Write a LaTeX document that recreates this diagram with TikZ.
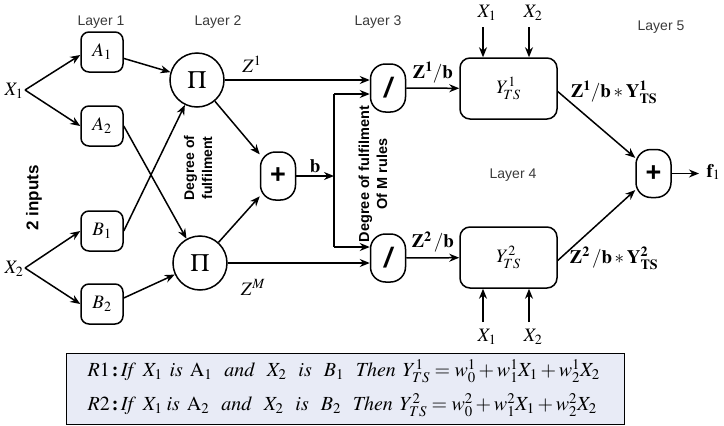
\documentclass[tikz,border=0pt]{standalone}
\usepackage{mathptmx}
\usepackage{fontspec}
\setmainfont{Liberation Serif}
\setsansfont{Liberation Sans}
\usetikzlibrary{arrows.meta}
\definecolor{boxfill}{HTML}{E8EBF6}
\definecolor{lblgray}{HTML}{3A3A3A}
\newcommand{\ga}{\hspace{7pt}}
\newcommand{\gb}{\hspace{12pt}}
\begin{document}
\begin{tikzpicture}[x=1pt,y=-1pt,
  lw/.style={line width=1.5pt},
  arr/.style={lw,-{Stealth[length=10pt,width=8pt]}},
  mathf/.style={font=\fontsize{19}{22}\selectfont},
  mf/.style={draw,lw,rounded corners=8pt,minimum width=42pt,minimum height=40pt,inner sep=0pt,mathf},
  pinode/.style={draw,lw,circle,minimum size=54pt,inner sep=0pt,font=\fontsize{25}{27}\selectfont},
  opnode/.style={draw,lw,rounded corners=15pt,minimum width=35pt,minimum height=48pt,inner sep=0pt,font=\sffamily\bfseries\fontsize{27}{29}\selectfont},
  ybox/.style={draw,lw,rounded corners=10pt,minimum width=97pt,minimum height=61pt,inner sep=0pt,mathf},
  layer/.style={font=\sffamily\fontsize{14}{16}\selectfont,text=lblgray},
  blbl/.style={font=\fontsize{19}{21}\selectfont},
  vlbl/.style={rotate=90,align=center,font=\sffamily\bfseries\fontsize{14}{18}\selectfont}]
\useasboundingbox (0,0) rectangle (724,426);

% layer labels
\node[layer] (L1) at (101,22) {Layer 1};
\node[layer] (L2) at (218,22) {Layer 2};
\node[layer] (L3) at (378,22) {Layer 3};
\node[layer] (L4) at (513,175) {Layer 4};
\node[layer] (L5) at (661,27) {Layer 5};

% inputs
\node[mathf] (X1) at (14,91) {$X_1$};
\node[mathf] (X2) at (14,269) {$X_2$};
\coordinate (x1p) at (25,90);
\coordinate (x2p) at (25,268);
\node[vlbl,font=\sffamily\bfseries\fontsize{17}{20}\selectfont] (inp) at (34,198) {2 inputs};

% layer 1
\node[mf] (A1) at (102,52) {$A_1$};
\node[mf] (A2) at (102,126) {$A_2$};
\node[mf] (B1) at (102,231) {$B_1$};
\node[mf] (B2) at (102,304) {$B_2$};

\draw[arr] (x1p) -- ([yshift=-3pt]A1.west);
\draw[arr] (x1p) -- (A2.west);
\draw[arr] (x2p) -- (B1.west);
\draw[arr] (x2p) -- (B2.west);

% layer 2
\node[pinode] (P1) at (197,80) {$\Pi$};
\node[pinode] (P2) at (200,263) {$\Pi$};
\draw[arr] (A1) -- (P1);
\draw[arr] (B1.east) -- (P1);
\draw[arr] (A2.east) -- (P2);
\draw[arr] ([yshift=6pt]B2.east) -- (P2);
\node[vlbl] (dof) at (198,168) {Degree of\\fulfilment};
\node[mathf] (Z1) at (252,64) {$Z^1$};
\node[mathf] (ZM) at (253,287) {$Z^M$};

% sum
\node[opnode] (S) at (278,176) {+};
\draw[arr] (P1) -- (S);
\draw[arr] (P2) -- (S);
\coordinate (bj) at (334,176);
\draw[arr] (S) -- (bj) node[midway,above,blbl,yshift=-1pt] {$\mathbf{b}$};
\coordinate (vt) at (334,94);
\coordinate (vb) at (334,247);
\draw[lw] (vt) -- (vb);

% layer 3
\node[opnode,font=\sffamily\bfseries\itshape\fontsize{28}{30}\selectfont] (D1) at (388,88) {/};
\node[opnode,font=\sffamily\bfseries\itshape\fontsize{28}{30}\selectfont] (D2) at (388,258) {/};
\draw[arr] (P1.east) -- (P1.east -| D1.west);
\draw[arr] (P2.east) -- (P2.east -| D2.west);
\draw[arr] (vt) -- (vt -| D1.west);
\draw[arr] (vb) -- (vb -| D2.west);
\node[vlbl,font=\sffamily\bfseries\fontsize{14.5}{18}\selectfont] (dofm) at (373,174) {Degree of fulfilment\\Of M rules};

% layer 4
\node[ybox] (Y1) at (508.5,88.5) {$Y^{1}_{\!TS}$};
\node[ybox] (Y2) at (508.5,257.5) {$Y^{2}_{\!TS}$};
\draw[arr] (D1) -- (Y1) node[midway,above,blbl,yshift=1pt] {$\mathbf{Z^1/b}$};
\draw[arr] (D2) -- (Y2) node[midway,above,blbl,yshift=1pt] {$\mathbf{Z^2\,/b}$};

\node[mathf] (tX1) at (487,13) {$X_1$};
\node[mathf] (tX2) at (533,13) {$X_2$};
\coordinate (ta1) at (483,27);
\coordinate (ta2) at (529,27);
\draw[arr] (ta1) -- (ta1 |- Y1.north);
\draw[arr] (ta2) -- (ta2 |- Y1.north);
\node[mathf] (bX1) at (487,337) {$X_1$};
\node[mathf] (bX2) at (533,337) {$X_2$};
\coordinate (ba1) at (483,322);
\coordinate (ba2) at (529,322);
\draw[arr] (ba1) -- (ba1 |- Y2.south);
\draw[arr] (ba2) -- (ba2 |- Y2.south);

% layer 5
\node[opnode] (S2) at (653.5,173.5) {+};
\draw[arr] ([yshift=-3pt]Y1.east) -- (S2);
\draw[arr] ([yshift=-3pt]Y2.east) -- (S2);
\node[blbl] (l1) at (614,92) {$\mathbf{Z^1/b}*\mathbf{Y^1_{TS}}$};
\node[blbl] (l2) at (614,258) {$\mathbf{Z^2\,/b}*\mathbf{Y^2_{TS}}$};
\coordinate (fo) at (699,173.5);
\draw[arr] (S2) -- (fo);
\node[blbl,anchor=west] (f1) at (703,172) {$\mathbf{f}_1$};

% rules box
\node[draw,line width=1pt,fill=boxfill,minimum width=558pt,minimum height=71pt,inner sep=0pt] (rules) at (345,388.5) {};
\node[anchor=west,font=\fontsize{20}{22}\selectfont] (r1) at (84,371) {$R1\,\textbf{:}\,\mathit{If}\ga X_1\ga \mathit{is}\ga \mathrm{A}_1\gb \mathit{and}\gb X_2\gb \mathit{is}\gb B_1\gb \mathit{Then}\ga Y^1_{TS} = w^1_0 + w^1_1X_1 + w^1_2X_2$};
\node[anchor=west,font=\fontsize{20}{22}\selectfont] (r2) at (84,405) {$R2\,\textbf{:}\,\mathit{If}\ga X_1\hspace{4pt} \mathit{is}\ga \mathrm{A}_2\gb \mathit{and}\gb X_2\gb \mathit{is}\gb B_2\gb \mathit{Then}\ga Y^2_{TS} = w^2_0 + w^2_1X_1 + w^2_2X_2$};
\end{tikzpicture}
\end{document}
